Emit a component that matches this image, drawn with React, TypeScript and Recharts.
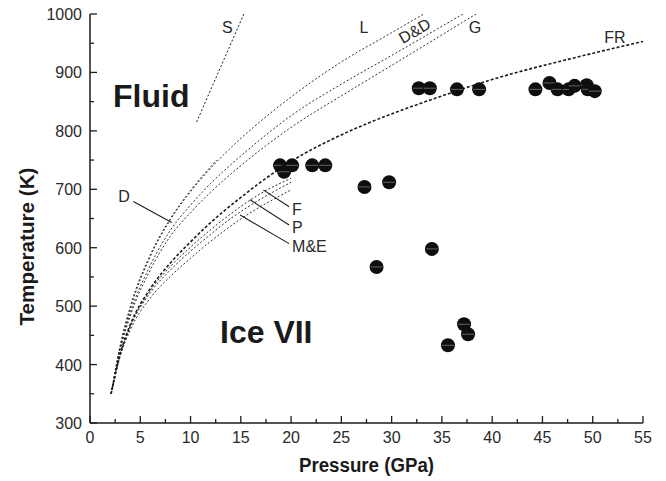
import { ComposedChart, XAxis, YAxis, Line, Scatter, ReferenceLine } from "recharts";

const FONT = '"Liberation Sans", Arial, sans-serif';
const INK = "#1c1c1c";
const TEXT = "#2a2a2a";

// melting curves, [pressure GPa, temperature K]
const curveS: [number, number][] = [[10.6, 815], [15.3, 1000]];
const curveL: [number, number][] = [
  [2.1, 350], [3, 430], [4, 495], [6, 585], [8, 648], [10, 696], [12, 736],
  [14, 771], [17, 817], [20, 858], [25, 918], [30, 968], [33.2, 1000],
];
const curveD: [number, number][] = [
  [2.1, 350], [3, 433], [4, 499], [6, 588], [8, 650], [10, 698], [12.6, 750],
];
const curveDD: [number, number][] = [
  [2.1, 350], [3, 428], [4, 488], [6, 570], [8, 630], [10, 673], [12, 710],
  [14, 742], [17, 786], [20, 826], [25, 880], [30, 929], [37.1, 1000],
];
const curveG: [number, number][] = [
  [2.1, 350], [3, 425], [4, 483], [6, 562], [8, 620], [10, 660], [12, 695],
  [14, 726], [17, 768], [20, 806], [25, 860], [30, 912], [38.4, 1000],
];
const curveFR: [number, number][] = [
  [2.1, 350], [3, 418], [4, 468], [6, 530], [8, 574], [10, 610], [12, 643],
  [15, 686], [18.6, 732], [21, 758], [24, 785], [27.5, 812], [34.2, 855],
  [40.8, 892], [48.4, 926], [55, 953],
];
const curveF: [number, number][] = [
  [2.1, 350], [3, 417], [4, 466], [6, 527], [8, 568], [10, 601], [12, 631],
  [14, 658], [17, 693], [20, 719],
];
const curveP: [number, number][] = [
  [2.1, 350], [3, 416], [4, 464], [6, 523], [8, 562], [10, 594], [12, 623],
  [14, 650], [16, 673], [20, 712],
];
const curveME: [number, number][] = [
  [2.1, 350], [3, 414], [4, 459], [6, 514], [8, 551], [10, 582], [12, 611],
  [14.9, 648], [20, 699],
];

// measured points
const measuredP = [
  18.9, 19.3, 20.1, 22.1, 23.4, 27.3, 29.75, 28.5, 34.0, 37.2, 37.6, 35.6,
  32.7, 33.8, 36.5, 38.7, 44.3, 45.7, 46.5, 47.6, 48.2, 49.4, 49.5, 50.2,
];
const measuredT = [
  741, 730, 741, 741, 741, 704, 712, 567, 598, 469, 452, 433,
  873, 873, 871, 871, 871, 882, 871, 871, 877, 878, 871, 868,
];

const xTicks = [0, 2.5, 5, 7.5, 10, 12.5, 15, 17.5, 20, 22.5, 25, 27.5, 30, 32.5, 35, 37.5, 40, 42.5, 45, 47.5, 50, 52.5, 55];
const yTicks = [300, 350, 400, 450, 500, 550, 600, 650, 700, 750, 800, 850, 900, 950, 1000];

// annotation text, anchored in data units
const labels = [
  { text: "Fluid", x: 2.29, y: 841, kind: "big" },
  { text: "Ice VII", x: 12.93, y: 437, kind: "big" },
  { text: "S", x: 13.67, y: 967, kind: "mid" },
  { text: "L", x: 27.25, y: 968, kind: "mid" },
  { text: "G", x: 38.3, y: 968, kind: "mid" },
  { text: "FR", x: 52.2, y: 950, kind: "mid" },
  { text: "D", x: 3.38, y: 678, kind: "mid" },
  { text: "F", x: 20.1, y: 656, kind: "start" },
  { text: "P", x: 20.1, y: 625, kind: "start" },
  { text: "M&E", x: 20.1, y: 593, kind: "start" },
  { text: "D&D", x: 32.3, y: 971, kind: "rot" },
];

const leaders = [
  [{ x: 4.31, y: 679 }, { x: 8.13, y: 643 }],
  [{ x: 17.24, y: 699 }, { x: 19.8, y: 670 }],
  [{ x: 15.92, y: 682 }, { x: 19.8, y: 639 }],
  [{ x: 14.93, y: 656 }, { x: 19.8, y: 607 }],
];

const rows = (c: [number, number][]) => c.map(([x, y]) => ({ x, y }));
const points = measuredP.map((x, i) => ({ x, y: measuredT[i] }));

const thin = [curveL, curveD, curveDD, curveG, curveF, curveP, curveME];

function isMajor(v: number, step: number) {
  return Math.abs(v / step - Math.round(v / step)) < 1e-6;
}

function BottomTick({ x, y, payload }: any) {
  const major = isMajor(payload.value, 5);
  return (
    <g>
      <line x1={x} x2={x} y1={y} y2={y - (major ? 7 : 4)} stroke={INK} strokeWidth={1.3} />
      {major && (
        <text x={x} y={y + 20} textAnchor="middle" fontSize={16} fill={TEXT} fontFamily={FONT}>
          {payload.value}
        </text>
      )}
    </g>
  );
}

function TopTick({ x, y, payload }: any) {
  const major = isMajor(payload.value, 5);
  return <line x1={x} x2={x} y1={y} y2={y + (major ? 7 : 4)} stroke={INK} strokeWidth={1.3} />;
}

function LeftTick({ x, y, payload }: any) {
  const major = isMajor(payload.value, 100);
  return (
    <g>
      <line x1={x} x2={x + (major ? 7 : 4)} y1={y} y2={y} stroke={INK} strokeWidth={1.3} />
      {major && (
        <text x={x - 8} y={y + 6} textAnchor="end" fontSize={16} fill={TEXT} fontFamily={FONT}>
          {payload.value}
        </text>
      )}
    </g>
  );
}

function RightTick({ x, y, payload }: any) {
  const major = isMajor(payload.value, 100);
  return <line x1={x} x2={x - (major ? 7 : 4)} y1={y} y2={y} stroke={INK} strokeWidth={1.3} />;
}

function Dot({ cx, cy }: any) {
  return (
    <g>
      <circle cx={cx} cy={cy} r={7} fill="#0e0e0e" />
      <line x1={cx - 6} x2={cx + 6} y1={cy} y2={cy} stroke="#8a8a8a" strokeWidth={0.7} />
    </g>
  );
}

function labelShape(l: (typeof labels)[number]) {
  return ({ cx, cy }: any) => {
    if (l.kind === "big")
      return (
        <text x={cx} y={cy} fontSize={32} fontWeight="bold" fill="#1a1a1a" fontFamily={FONT}>
          {l.text}
        </text>
      );
    if (l.kind === "rot")
      return (
        <text x={cx} y={cy} fontSize={16} fill={TEXT} fontFamily={FONT} textAnchor="middle"
          dominantBaseline="central" transform={`rotate(-30 ${cx} ${cy})`}>
          {l.text}
        </text>
      );
    return (
      <text x={cx} y={cy} fontSize={16} fill={TEXT} fontFamily={FONT}
        textAnchor={l.kind === "start" ? "start" : "middle"}>
        {l.text}
      </text>
    );
  };
}

export default function App() {
  const axisLine = { stroke: INK, strokeWidth: 1.5 };
  return (
    <div style={{ position: "absolute", left: 0, top: 0, background: "#fff" }}>
      <ComposedChart width={666} height={481} margin={{ top: 14, right: 23, bottom: 18, left: 30 }}>
        <XAxis
          type="number" dataKey="x" domain={[0, 55]} ticks={xTicks} interval={0} allowDataOverflow
          tickSize={0} tickMargin={0} tickLine={false} axisLine={axisLine} tick={<BottomTick />} height={40}
          label={(p: any) => (
            <text x={p.viewBox.x + p.viewBox.width / 2} y={p.viewBox.y + 49} textAnchor="middle"
              fontSize={20} fontWeight="bold" fill="#1a1a1a" fontFamily={FONT}
              textLength={135} lengthAdjust="spacingAndGlyphs">
              Pressure (GPa)
            </text>
          )}
        />
        <XAxis
          xAxisId="top" orientation="top" type="number" domain={[0, 55]} ticks={xTicks} interval={0}
          allowDataOverflow tickSize={0} tickMargin={0} tickLine={false} axisLine={axisLine}
          tick={<TopTick />} height={0}
        />
        <YAxis
          type="number" dataKey="y" domain={[300, 1000]} ticks={yTicks} interval={0} allowDataOverflow
          tickSize={0} tickMargin={0} tickLine={false} axisLine={axisLine} tick={<LeftTick />} width={60}
          label={(p: any) => {
            const cx = 27;
            const cy = p.viewBox.y + p.viewBox.height / 2 + 28;
            return (
              <text x={cx} y={cy} textAnchor="middle" dominantBaseline="central"
                transform={`rotate(-90 ${cx} ${cy})`} fontSize={20} fontWeight="bold" fill="#1a1a1a"
                fontFamily={FONT} textLength={158} lengthAdjust="spacingAndGlyphs">
                Temperature (K)
              </text>
            );
          }}
        />
        <YAxis
          yAxisId="right" orientation="right" type="number" domain={[300, 1000]} ticks={yTicks} interval={0}
          allowDataOverflow tickSize={0} tickMargin={0} tickLine={false} axisLine={axisLine}
          tick={<RightTick />} width={0}
        />

        <Line data={rows(curveS)} dataKey="y" type="linear" stroke={INK} strokeWidth={1}
          strokeDasharray="2 2" dot={false} isAnimationActive={false} />
        {thin.map((c, i) => (
          <Line key={i} data={rows(c)} dataKey="y" type="monotone" stroke={INK} strokeWidth={0.9}
            strokeDasharray="2 2" dot={false} isAnimationActive={false} />
        ))}
        <Line data={rows(curveFR)} dataKey="y" type="monotone" stroke={INK} strokeWidth={1.6}
          strokeDasharray="3 2" dot={false} isAnimationActive={false} />

        {leaders.map((s, i) => (
          <ReferenceLine key={i} segment={s} stroke={INK} strokeWidth={1.1} ifOverflow="visible" />
        ))}

        <Scatter data={points} shape={<Dot />} isAnimationActive={false} />

        {labels.map((l) => (
          <Scatter key={l.text} data={[{ x: l.x, y: l.y }]} shape={labelShape(l)} isAnimationActive={false} />
        ))}
      </ComposedChart>
    </div>
  );
}
